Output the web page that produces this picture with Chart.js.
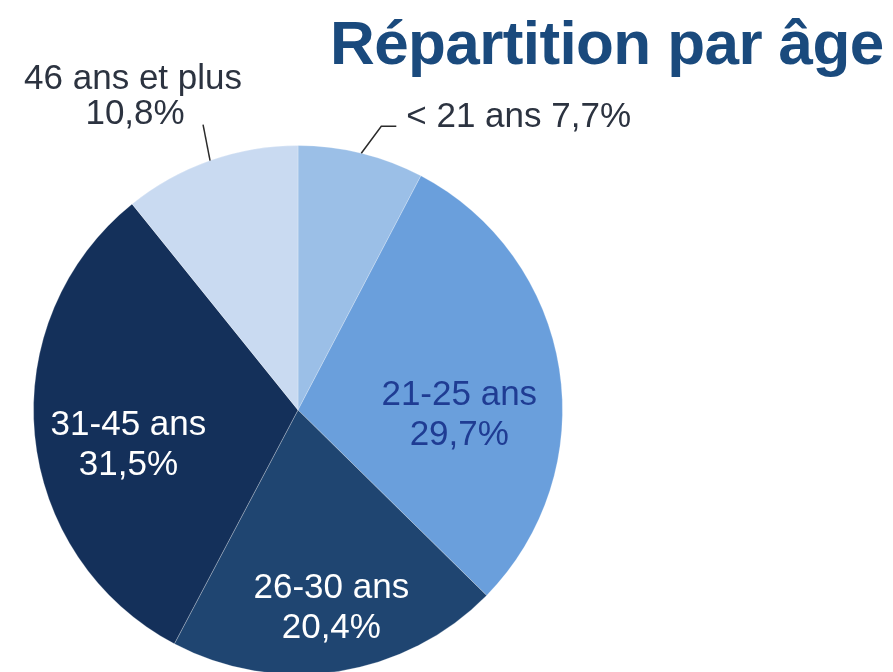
<!DOCTYPE html>
<html lang="fr">
<head>
<meta charset="utf-8">
<title>Répartition par âge</title>
<script src="https://cdn.jsdelivr.net/npm/chart.js@4/dist/chart.umd.min.js"></script>
<style>
    html, body { margin: 0; padding: 0; background: #fff; overflow: hidden; }
    body { width: 893px; height: 672px; position: relative; }
    #title {
        position: absolute; left: 330px; top: 7px; margin: 0;
        font-family: 'Liberation Sans', Arial, sans-serif; font-weight: bold;
        font-size: 62px; color: #1a4a7d; white-space: nowrap; letter-spacing: -0.6px;
    }
    #wrap { position: absolute; left: 0; top: 0; width: 893px; height: 700px; }
</style>
</head>
<body>
<h1 id="title">Répartition par âge</h1>
<div id="wrap"><canvas id="ageChart"></canvas></div>
<script>
const categories = ['< 21 ans', '21-25 ans', '26-30 ans', '31-45 ans', '46 ans et plus'];
const shares = [7.7, 29.7, 20.4, 31.5, 10.8];
const sliceColors = ['#9bbfe7', '#6a9fdc', '#1f4571', '#14305a', '#c9daf1'];

// label styling per slice: inside (radius fraction) or outside with a leader line
const labelStyle = [
    { mode: 'leaderRight', color: '#2c3340' },
    { mode: 'inside', r: 0.61, a: 0.6, color: '#1f3c93' },
    { mode: 'inside', r: 0.76, a: 0.49, color: '#ffffff' },
    { mode: 'inside', r: 0.655, a: 0.444, color: '#ffffff' },
    { mode: 'leaderUp', color: '#2c3340' }
];

const fmt = v => v.toFixed(1).replace('.', ',') + '%';

const labelPlugin = {
    id: 'ageLabels',
    afterDraw(chart) {
        const ctx = chart.ctx;
        const arcs = chart.getDatasetMeta(0).data;
        ctx.save();
        ctx.font = '35px "Liberation Sans", Arial, sans-serif';
        ctx.textBaseline = 'middle';
        ctx.lineWidth = 1.5;
        ctx.strokeStyle = '#2b2b2b';
        arcs.forEach((arc, i) => {
            const { x, y, startAngle, endAngle, outerRadius } = arc.getProps(['x', 'y', 'startAngle', 'endAngle', 'outerRadius'], true);
            const st = labelStyle[i];
            ctx.fillStyle = st.color;
            if (st.mode === 'inside') {
                const ang = startAngle + (endAngle - startAngle) * st.a;
                const cx = x + Math.cos(ang) * outerRadius * st.r;
                const cy = y + Math.sin(ang) * outerRadius * st.r;
                ctx.textAlign = 'center';
                ctx.fillText(categories[i], cx, cy - 20);
                ctx.fillText(fmt(shares[i]), cx, cy + 20);
            } else {
                const mid = (startAngle + endAngle) / 2;
                const px = x + Math.cos(mid) * outerRadius;
                const py = y + Math.sin(mid) * outerRadius;
                ctx.beginPath();
                ctx.moveTo(px, py);
                if (st.mode === 'leaderRight') {
                    const ex = px + 20, ey = py - 27;
                    ctx.lineTo(ex, ey);
                    ctx.lineTo(ex + 15, ey);
                    ctx.stroke();
                    ctx.textAlign = 'left';
                    ctx.fillText(categories[i] + ' ' + fmt(shares[i]), ex + 25, ey - 9);
                } else {
                    const ex = px - 7, ey = py - 36;
                    ctx.lineTo(ex, ey);
                    ctx.stroke();
                    ctx.textAlign = 'center';
                    ctx.fillText(categories[i], ex - 70, ey - 45);
                    ctx.fillText(fmt(shares[i]), ex - 68, ey - 10);
                }
            }
        });
        ctx.restore();
    }
};

new Chart(document.getElementById('ageChart').getContext('2d'), {
    type: 'pie',
    data: {
        labels: categories,
        datasets: [{
            data: shares,
            backgroundColor: sliceColors,
            borderColor: 'rgba(255,255,255,0.25)',
            borderWidth: 1
        }]
    },
    options: {
        responsive: true,
        maintainAspectRatio: false,
        animation: false,
        layout: { padding: { left: 33, right: 330, top: 145, bottom: 25 } },
        plugins: { legend: { display: false }, tooltip: { enabled: false } }
    },
    plugins: [labelPlugin]
});
</script>
</body>
</html>
